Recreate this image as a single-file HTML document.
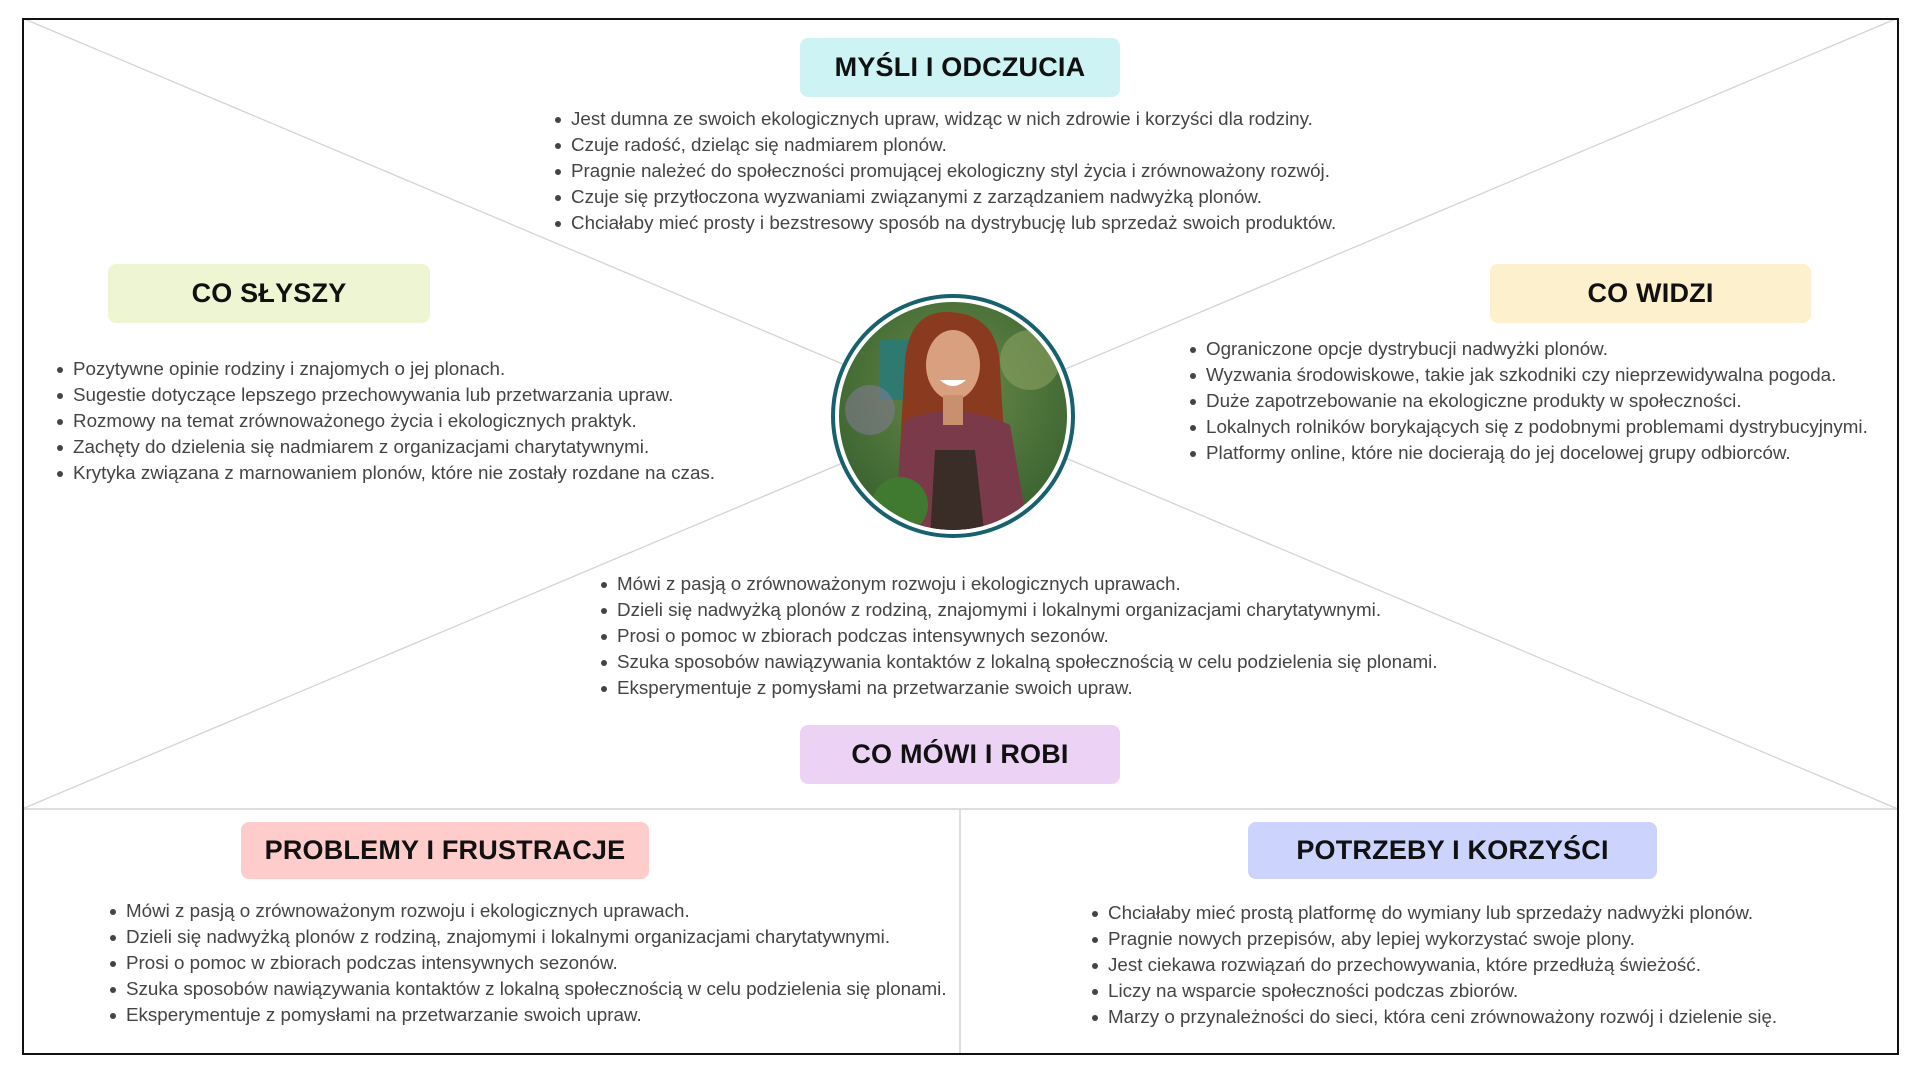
<!DOCTYPE html>
<html><head><meta charset="utf-8"><style>
*{margin:0;padding:0;box-sizing:border-box}
body{width:1920px;height:1080px;background:#fff;position:relative;overflow:hidden;font-family:"Liberation Sans","DejaVu Sans",sans-serif}
.frame{position:absolute;left:22px;top:18px;width:1877px;height:1037px;border:2px solid #111}
.h{position:absolute;border-radius:8px;font-weight:bold;font-size:27px;color:#111;display:flex;align-items:center;justify-content:center;letter-spacing:0.2px}
ul{position:absolute;list-style:none;font-size:18.8px;line-height:26px;color:#444;white-space:nowrap}
li{position:relative;padding-left:15px}
li:before{content:"";position:absolute;left:-1px;top:11px;width:6px;height:6px;border-radius:50%;background:#444}
</style></head><body>
<svg width="1920" height="1080" style="position:absolute;left:0;top:0">
<line x1="22" y1="18" x2="1898" y2="809" stroke="#d4d4d4" stroke-width="1.3"/>
<line x1="1898" y1="18" x2="22" y2="809" stroke="#d4d4d4" stroke-width="1.3"/>
<line x1="22" y1="809" x2="1898" y2="809" stroke="#d4d4d4" stroke-width="1.5"/>
<line x1="960" y1="809" x2="960" y2="1054" stroke="#d4d4d4" stroke-width="1.5"/>
<defs><clipPath id="c"><circle cx="953" cy="416" r="114"/></clipPath>
<radialGradient id="bg" cx="0.5" cy="0.4" r="0.7"><stop offset="0" stop-color="#6a8a4a"/><stop offset="1" stop-color="#2f5a2a"/></radialGradient></defs>
<circle cx="953" cy="416" r="120" fill="#fff" stroke="#17606f" stroke-width="4"/>
<g clip-path="url(#c)">
<rect x="830" y="290" width="250" height="250" fill="url(#bg)"/>
<rect x="880" y="340" width="40" height="60" fill="#2f7a70"/>
<circle cx="1030" cy="360" r="30" fill="#8aa060" opacity="0.6"/>
<circle cx="870" cy="410" r="25" fill="#8a7aa0" opacity="0.5"/>
<path d="M905 360 Q910 310 950 312 Q1000 315 1000 370 L1005 450 L900 450 Z" fill="#8a3a1e"/>
<path d="M900 450 L905 420 Q955 400 1010 425 L1030 540 L895 540 Z" fill="#7a3a4a"/>
<path d="M935 450 L975 450 L985 540 L930 540 Z" fill="#3a2c26"/>
<ellipse cx="953" cy="365" rx="27" ry="35" fill="#d9a080"/>
<rect x="943" y="395" width="20" height="30" fill="#c99070"/>
<path d="M940 380 Q953 392 966 380 Z" fill="#fff"/>
<circle cx="900" cy="505" r="28" fill="#3f7a30"/>
</g>
</svg>
<div class="frame"></div>
<div class="h" style="left:800px;top:38px;width:320px;height:59px;background:#cdf3f5">MYŚLI I ODCZUCIA</div>
<div class="h" style="left:108px;top:264px;width:322px;height:59px;background:#eef5d2">CO SŁYSZY</div>
<div class="h" style="left:1490px;top:264px;width:321px;height:59px;background:#fdf0cc">CO WIDZI</div>
<div class="h" style="left:800px;top:725px;width:320px;height:59px;background:#ecd3f5">CO MÓWI I ROBI</div>
<div class="h" style="left:241px;top:822px;width:408px;height:57px;background:#ffcccc">PROBLEMY I FRUSTRACJE</div>
<div class="h" style="left:1248px;top:822px;width:409px;height:57px;background:#ccd3fc">POTRZEBY I KORZYŚCI</div>
<ul style="left:556px;top:106px">
<li>Jest dumna ze swoich ekologicznych upraw, widząc w nich zdrowie i korzyści dla rodziny.</li>
<li>Czuje radość, dzieląc się nadmiarem plonów.</li>
<li>Pragnie należeć do społeczności promującej ekologiczny styl życia i zrównoważony rozwój.</li>
<li>Czuje się przytłoczona wyzwaniami związanymi z zarządzaniem nadwyżką plonów.</li>
<li>Chciałaby mieć prosty i bezstresowy sposób na dystrybucję lub sprzedaż swoich produktów.</li>
</ul>
<ul style="left:58px;top:356px">
<li>Pozytywne opinie rodziny i znajomych o jej plonach.</li>
<li>Sugestie dotyczące lepszego przechowywania lub przetwarzania upraw.</li>
<li>Rozmowy na temat zrównoważonego życia i ekologicznych praktyk.</li>
<li>Zachęty do dzielenia się nadmiarem z organizacjami charytatywnymi.</li>
<li>Krytyka związana z marnowaniem plonów, które nie zostały rozdane na czas.</li>
</ul>
<ul style="left:1191px;top:336px">
<li>Ograniczone opcje dystrybucji nadwyżki plonów.</li>
<li>Wyzwania środowiskowe, takie jak szkodniki czy nieprzewidywalna pogoda.</li>
<li>Duże zapotrzebowanie na ekologiczne produkty w społeczności.</li>
<li>Lokalnych rolników borykających się z podobnymi problemami dystrybucyjnymi.</li>
<li>Platformy online, które nie docierają do jej docelowej grupy odbiorców.</li>
</ul>
<ul style="left:602px;top:571px">
<li>Mówi z pasją o zrównoważonym rozwoju i ekologicznych uprawach.</li>
<li>Dzieli się nadwyżką plonów z rodziną, znajomymi i lokalnymi organizacjami charytatywnymi.</li>
<li>Prosi o pomoc w zbiorach podczas intensywnych sezonów.</li>
<li>Szuka sposobów nawiązywania kontaktów z lokalną społecznością w celu podzielenia się plonami.</li>
<li>Eksperymentuje z pomysłami na przetwarzanie swoich upraw.</li>
</ul>
<ul style="left:111px;top:898px">
<li>Mówi z pasją o zrównoważonym rozwoju i ekologicznych uprawach.</li>
<li>Dzieli się nadwyżką plonów z rodziną, znajomymi i lokalnymi organizacjami charytatywnymi.</li>
<li>Prosi o pomoc w zbiorach podczas intensywnych sezonów.</li>
<li>Szuka sposobów nawiązywania kontaktów z lokalną społecznością w celu podzielenia się plonami.</li>
<li>Eksperymentuje z pomysłami na przetwarzanie swoich upraw.</li>
</ul>
<ul style="left:1093px;top:900px">
<li>Chciałaby mieć prostą platformę do wymiany lub sprzedaży nadwyżki plonów.</li>
<li>Pragnie nowych przepisów, aby lepiej wykorzystać swoje plony.</li>
<li>Jest ciekawa rozwiązań do przechowywania, które przedłużą świeżość.</li>
<li>Liczy na wsparcie społeczności podczas zbiorów.</li>
<li>Marzy o przynależności do sieci, która ceni zrównoważony rozwój i dzielenie się.</li>
</ul>
</body></html>
